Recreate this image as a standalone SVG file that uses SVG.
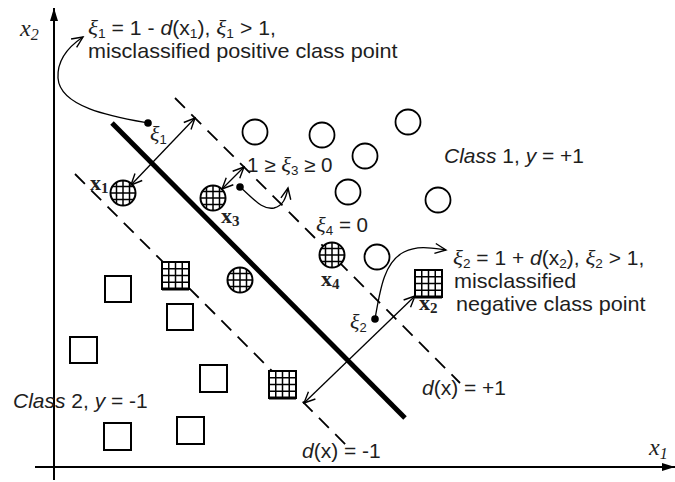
<svg xmlns="http://www.w3.org/2000/svg" width="675" height="482" viewBox="0 0 675 482">
<style>
.t{font-family:"Liberation Sans",Arial,sans-serif;font-size:20px;fill:#1e1e1e}
.g{font-family:"Liberation Serif","Times New Roman",serif;font-style:italic;font-size:22px}
.i{font-style:italic}
.s{font-size:13px}
.v{font-family:"Liberation Serif","Times New Roman",serif;font-size:22px;font-weight:bold;fill:#222}
.ax{font-family:"Liberation Serif","Times New Roman",serif;font-size:24px;font-style:italic;fill:#222}
.dash{stroke:#000;stroke-width:1.8;stroke-dasharray:14 9;fill:none}
.arr{stroke:#000;stroke-width:1.3;fill:none}
.oc{fill:#fff;stroke:#000;stroke-width:1.8}
.os{fill:#fff;stroke:#000;stroke-width:2}
.grid{stroke:#000;stroke-width:1.5}
</style>
<defs>
<marker id="ah" viewBox="-12 -6 14 12" refX="0" refY="0" markerWidth="14" markerHeight="12" markerUnits="userSpaceOnUse" orient="auto-start-reverse">
<path d="M-11,-5 L0,0 L-11,5" fill="none" stroke="#000" stroke-width="1.4"/>
</marker>
<marker id="axh" viewBox="-13 -5 14 10" refX="0" refY="0" markerWidth="14" markerHeight="10" markerUnits="userSpaceOnUse" orient="auto">
<path d="M-13,-4 L0,0 L-13,4 Z" fill="#000"/>
</marker>
<clipPath id="cc"><circle cx="0" cy="0" r="12.5"/></clipPath>
<g id="hc">
<circle r="12.5" fill="#fff"/>
<g clip-path="url(#cc)" class="grid">
<line x1="-6.5" y1="-14" x2="-6.5" y2="14"/><line x1="0" y1="-14" x2="0" y2="14"/><line x1="6.5" y1="-14" x2="6.5" y2="14"/>
<line x1="-14" y1="-6.5" x2="14" y2="-6.5"/><line x1="-14" y1="0" x2="14" y2="0"/><line x1="-14" y1="6.5" x2="14" y2="6.5"/>
</g>
<circle r="12.5" fill="none" stroke="#000" stroke-width="2"/>
</g>
<g id="hs">
<rect x="0" y="0" width="27" height="27" fill="#fff"/>
<g class="grid">
<line x1="6.75" y1="0" x2="6.75" y2="27"/><line x1="13.5" y1="0" x2="13.5" y2="27"/><line x1="20.25" y1="0" x2="20.25" y2="27"/>
<line x1="0" y1="6.75" x2="27" y2="6.75"/><line x1="0" y1="13.5" x2="27" y2="13.5"/><line x1="0" y1="20.25" x2="27" y2="20.25"/>
</g>
<rect x="0" y="0" width="27" height="27" fill="none" stroke="#000" stroke-width="2"/>
<line x1="0" y1="27" x2="27" y2="27" stroke="#000" stroke-width="3"/>
</g>
</defs>
<rect width="675" height="482" fill="#fff"/>

<g id="axes">
<line x1="54" y1="480" x2="54" y2="8" stroke="#000" stroke-width="2" marker-end="url(#axh)"/>
<line x1="35" y1="467" x2="675" y2="467" stroke="#000" stroke-width="2" marker-end="url(#axh)"/>
<text class="ax" x="20" y="36">x<tspan font-size="16" dy="4">2</tspan></text>
<text class="ax" x="649" y="455">x<tspan font-size="16" dy="4">1</tspan></text>
</g>

<g id="boundaries">
<line x1="112" y1="123" x2="405" y2="418" stroke="#000" stroke-width="5"/>
<line class="dash" x1="175" y1="98" x2="460" y2="383"/>
<line class="dash" x1="75" y1="174" x2="347" y2="446"/>
</g>

<g id="class1">
<circle class="oc" cx="255" cy="132" r="12.5"/>
<circle class="oc" cx="322" cy="135" r="12.5"/>
<circle class="oc" cx="408" cy="122" r="12.5"/>
<circle class="oc" cx="365" cy="156" r="12.5"/>
<circle class="oc" cx="348" cy="192" r="12.5"/>
<circle class="oc" cx="438" cy="200" r="12.5"/>
<circle class="oc" cx="377" cy="257" r="12.5"/>
</g>
<g id="x1"><use href="#hc" transform="translate(123,193)"/></g>
<g id="x3"><use href="#hc" transform="translate(213,198)"/></g>
<g id="x4"><use href="#hc" transform="translate(332,255)"/></g>
<g id="c1m"><use href="#hc" transform="translate(240,280)"/></g>

<g id="class2">
<rect class="os" x="105" y="276" width="26" height="26"/>
<rect class="os" x="167" y="304" width="26" height="26"/>
<rect class="os" x="70" y="337" width="27" height="26"/>
<rect class="os" x="200" y="365" width="27" height="27"/>
<rect class="os" x="104" y="423" width="27" height="27"/>
<rect class="os" x="177" y="417" width="27" height="27"/>
</g>
<g id="s1"><use href="#hs" transform="translate(162,262)"/></g>
<g id="x2"><use href="#hs" transform="translate(415,270)"/></g>
<g id="s3"><use href="#hs" transform="translate(269,371)"/></g>

<g id="connectors">
<line class="arr" x1="131" y1="185" x2="195" y2="118" marker-start="url(#ah)" marker-end="url(#ah)"/>
<line class="arr" x1="222" y1="189" x2="244" y2="167" marker-start="url(#ah)" marker-end="url(#ah)"/>
<line class="arr" x1="415" y1="296" x2="304" y2="403" marker-start="url(#ah)" marker-end="url(#ah)"/>
<path class="arr" d="M148,123 C115,117 60,108 58,78 C57,60 68,47 83,37" marker-end="url(#ah)"/>
<path class="arr" d="M240,187 C255,200 262,210 274,208 C283,206 286,198 288,188" marker-end="url(#ah)"/>
<path class="arr" d="M375,319 C380,290 384,262 404,252 C418,245 432,248 446,250" marker-end="url(#ah)"/>
<circle cx="148" cy="123" r="3.8" fill="#000"/>
<circle cx="240" cy="187" r="3.8" fill="#000"/>
<circle cx="375" cy="319" r="3.8" fill="#000"/>
</g>

<g id="labels">
<text class="t" transform="translate(88,35) scale(1.06,1)"><tspan class="g">ξ</tspan><tspan class="s" dy="3">1</tspan><tspan dy="-3"> = 1 - </tspan><tspan class="i">d</tspan>(x<tspan class="s" dy="3">1</tspan><tspan dy="-3">), </tspan><tspan class="g">ξ</tspan><tspan class="s" dy="3">1</tspan><tspan dy="-3"> &gt; 1,</tspan></text>
<text class="t" transform="translate(88,58) scale(1.08,1)">misclassified positive class point</text>
<text class="t" transform="translate(247,172) scale(1.03,1)">1 ≥ <tspan class="g">ξ</tspan><tspan class="s" dy="3">3</tspan><tspan dy="-3"> ≥ 0</tspan></text>
<text class="t" transform="translate(444,163) scale(1.05,1)"><tspan class="i">Class</tspan> 1, <tspan class="i">y</tspan> = +1</text>
<text class="t" transform="translate(316,232) scale(1.03,1)"><tspan class="g">ξ</tspan><tspan class="s" dy="3">4</tspan><tspan dy="-3"> = 0</tspan></text>
<text class="t" transform="translate(453,265) scale(1.05,1)"><tspan class="g">ξ</tspan><tspan class="s" dy="3">2</tspan><tspan dy="-3"> = 1 + </tspan><tspan class="i">d</tspan>(x<tspan class="s" dy="3">2</tspan><tspan dy="-3">), </tspan><tspan class="g">ξ</tspan><tspan class="s" dy="3">2</tspan><tspan dy="-3"> &gt; 1,</tspan></text>
<text class="t" transform="translate(454,288) scale(1.08,1)">misclassified</text>
<text class="t" transform="translate(456,311) scale(1.08,1)">negative class point</text>
<text class="t" transform="translate(13,408) scale(1.05,1)"><tspan class="i">Class</tspan> 2, <tspan class="i">y</tspan> = -1</text>
<text class="t" transform="translate(422,395) scale(1.05,1)"><tspan class="i">d</tspan>(x) = +1</text>
<text class="t" transform="translate(302,458) scale(1.05,1)"><tspan class="i">d</tspan>(x) = -1</text>
<text class="t" x="150" y="141"><tspan class="g">ξ</tspan><tspan class="s" dy="3">1</tspan></text>
<text class="t" x="350" y="329"><tspan class="g">ξ</tspan><tspan class="s" dy="3">2</tspan></text>
<text class="v" x="90" y="190">x<tspan font-size="15" dy="3">1</tspan></text>
<text class="v" x="221" y="223">x<tspan font-size="15" dy="3">3</tspan></text>
<text class="v" x="321" y="286">x<tspan font-size="15" dy="3">4</tspan></text>
<text class="v" x="419" y="310">x<tspan font-size="15" dy="3">2</tspan></text>
</g>
</svg>
